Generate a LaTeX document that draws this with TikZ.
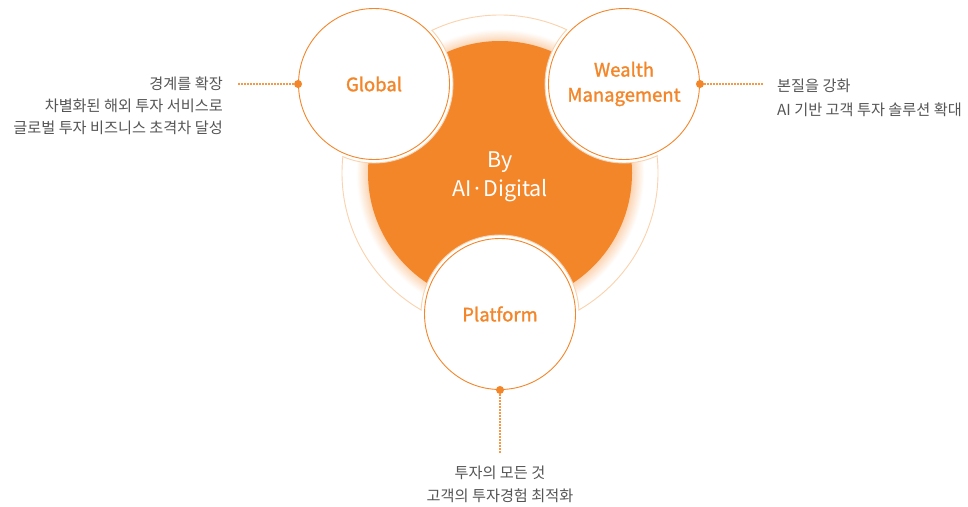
\documentclass[tikz,border=0pt]{standalone}
\usepackage{fontspec}
\setmainfont{Noto Sans CJK KR}
\newfontfamily\labelfont[FakeBold=1.4]{Noto Sans CJK KR}
\usepackage{xcolor}
\usetikzlibrary{positioning}
\definecolor{brand}{HTML}{F4862A}
\definecolor{pale}{HTML}{FBD2AE}
\definecolor{txt}{HTML}{555555}
\pgfdeclareradialshading{glow}{\pgfpoint{0bp}{0bp}}{color(0bp)=(brand!35); color(22.9bp)=(brand!35); color(25bp)=(white); color(50bp)=(white)}

\begin{document}
\begin{tikzpicture}[x=1pt,y=-1pt,
  pillar/.style={circle,draw=brand,fill=white,line width=0.9pt,minimum size=151pt,inner sep=0pt,
    text=brand,font=\fontsize{18.5}{25}\selectfont\labelfont,align=center},
  dot/.style={circle,fill=brand,inner sep=0pt,minimum size=8pt},
  lead/.style={brand!85,line width=1.1pt,dash pattern=on 1.4pt off 1.6pt},
  note/.style={text=txt,font=\fontsize{15.2}{22}\selectfont,inner sep=0pt}]
\useasboundingbox[fill=white] (0,0) rectangle (968,506);
\coordinate (hub) at (500,173);
% ring, glow and core
\draw[pale,fill=white,line width=0.9pt] (hub) circle (158);
\shade[shading=glow] (hub) circle (144);
\fill[brand] (hub) circle (132);
\node[text=white,font=\fontsize{21.5}{29}\selectfont,align=center] (core) at (500,177) {By\\AI·Digital};
% halos cutting the ring
\foreach \p in {(374,84),(624,84),(500,314)}
  \fill[white] \p circle (79);
\begin{scope}
  \clip (hub) circle (158.5);
  \foreach \p in {(374,84),(624,84),(500,314)}
    \draw[pale,line width=0.9pt] \p circle (79);
\end{scope}
% three pillars
\node[pillar] (global) at (374,84) {Global};
\node[pillar] (wealth) at (624,84) {\raisebox{-2pt}{Wealth}\\\raisebox{-2pt}{Management}};
\node[pillar] (platform) at (500,314) {\raisebox{-2pt}{Platform}};
\node[dot] (gdot) at (global.west) {};
\node[dot] (wdot) at (wealth.east) {};
\node[dot] (pdot) at (platform.south) {};
\coordinate (gend) at (238,84);
\coordinate (wend) at (763,84);
\coordinate (pend) at (500,453);
\draw[lead] (gdot) -- (gend);
\draw[lead] (wdot) -- (wend);
\draw[lead] (pdot) -- (pend);
% notes
\node[note,anchor=east,align=right] (gnote) at (223,106) {경계를 확장\\차별화된 해외 투자 서비스로\\글로벌 투자 비즈니스 초격차 달성};
\node[note,anchor=west,align=left,font=\fontsize{15.2}{24}\selectfont] (wnote) at (777,98) {본질을 강화\\AI 기반 고객 투자 솔루션 확대};
\node[note,align=center,font=\fontsize{15.2}{23}\selectfont] (pnote) at (500,484) {투자의 모든 것\\고객의 투자경험 최적화};
\end{tikzpicture}
\end{document}
